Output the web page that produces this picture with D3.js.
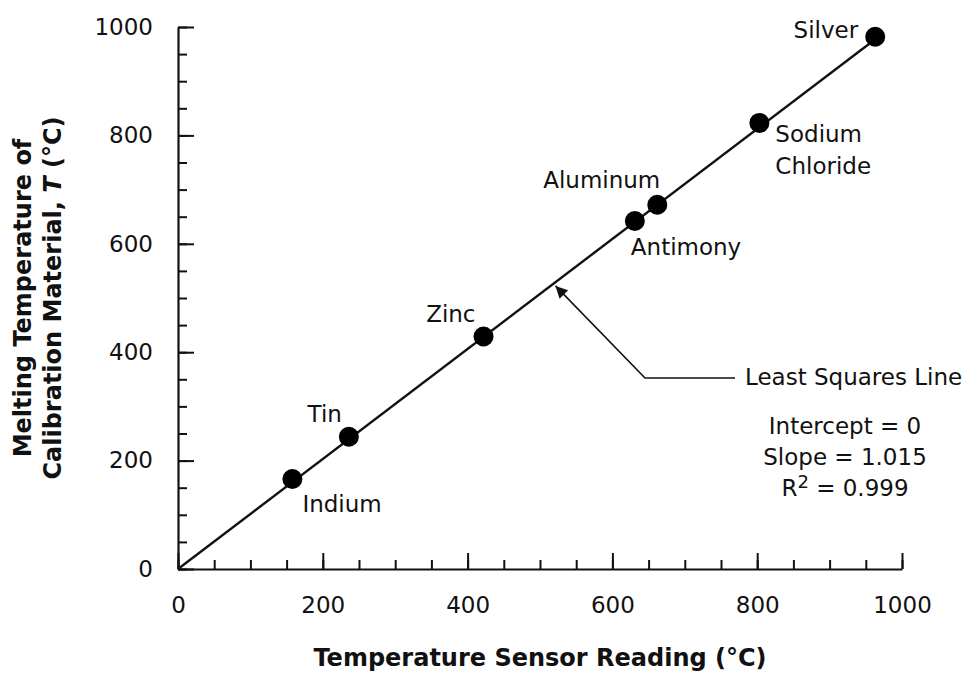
<!DOCTYPE html>
<html>
<head>
<meta charset="utf-8">
<script src="https://cdn.jsdelivr.net/npm/d3@7"></script>
<style>
  html, body { margin: 0; padding: 0; background: #fff; }
  #chart { width: 968px; height: 674px; }
  text { font-family: "DejaVu Sans", Verdana, sans-serif; fill: #111; }
</style>
</head>
<body>
<div id="chart"></div>
<script>
// calibration points
const materials     = ["Indium", "Tin", "Zinc", "Antimony", "Aluminum", "Sodium\nChloride", "Silver"];
const sensorReading = [158, 236, 422, 631, 662, 803, 963];
const meltingTemp   = [166, 244, 429, 642, 672, 823, 982];

const majorTicks = [0, 200, 400, 600, 800, 1000];
const minorTicks = d3.range(0, 1001, 50);

const fitSlope = 1.015;
const fitText  = ["Intercept = 0", "Slope = 1.015", "R2 = 0.999"];

/* label placement (px, relative to the dot) */
const labelPos = {
  "Indium":           { dx: 10,  dy: 33,  anchor: "start" },
  "Tin":              { dx: -7,  dy: -15, anchor: "end" },
  "Zinc":             { dx: -8,  dy: -14, anchor: "end" },
  "Antimony":         { dx: -4,  dy: 34,  anchor: "start" },
  "Aluminum":         { dx: 3,   dy: -17, anchor: "end" },
  "Sodium\nChloride": { dx: 16,  dy: 19,  anchor: "start" },
  "Silver":           { dx: -17, dy: 1,   anchor: "end" }
};

const W = 968, H = 674;
const svg = d3.select("#chart").append("svg").attr("width", W).attr("height", H);

const x = d3.scaleLinear().domain([0, 1000]).range([178, 902]);
const y = d3.scaleLinear().domain([0, 1000]).range([569, 27]);

const FS = 23;
const fmt = d3.format("d");

// minor ticks (inward)
svg.append("g")
  .attr("transform", `translate(0,${y(0)})`)
  .call(d3.axisBottom(x).tickValues(minorTicks).tickSizeInner(-9).tickSizeOuter(0).tickFormat(""))
  .call(g => g.select(".domain").remove())
  .call(g => g.selectAll(".tick line").attr("stroke", "#111").attr("stroke-width", 2));
svg.append("g")
  .attr("transform", `translate(${x(0)},0)`)
  .call(d3.axisLeft(y).tickValues(minorTicks).tickSizeInner(-9).tickSizeOuter(0).tickFormat(""))
  .call(g => g.select(".domain").remove())
  .call(g => g.selectAll(".tick line").attr("stroke", "#111").attr("stroke-width", 2));

// major ticks + labels
svg.append("g")
  .attr("transform", `translate(0,${y(0)})`)
  .call(d3.axisBottom(x).tickValues(majorTicks).tickFormat(fmt).tickSizeInner(-16).tickSizeOuter(0).tickPadding(28))
  .call(g => g.select(".domain").attr("stroke", "#111").attr("stroke-width", 2.2))
  .call(g => g.selectAll(".tick line").attr("stroke", "#111").attr("stroke-width", 2))
  .call(g => g.selectAll("text").attr("font-size", FS).attr("fill", "#111")
    .style("font-family", '"DejaVu Sans", Verdana, sans-serif'));
svg.append("g")
  .attr("transform", `translate(${x(0)},0)`)
  .call(d3.axisLeft(y).tickValues(majorTicks).tickFormat(fmt).tickSizeInner(-16).tickSizeOuter(0).tickPadding(25))
  .call(g => g.select(".domain").attr("stroke", "#111").attr("stroke-width", 2.2))
  .call(g => g.selectAll(".tick line").attr("stroke", "#111").attr("stroke-width", 2))
  .call(g => g.selectAll("text").attr("font-size", FS).attr("fill", "#111")
    .style("font-family", '"DejaVu Sans", Verdana, sans-serif'));

// least squares line
const xEnd = d3.max(sensorReading);
svg.append("line")
  .attr("x1", x(0)).attr("y1", y(0))
  .attr("x2", x(xEnd)).attr("y2", y(xEnd * fitSlope))
  .attr("stroke", "#111").attr("stroke-width", 2.4);

// points
const pts = materials.map((m, i) => ({ name: m, sx: sensorReading[i], t: meltingTemp[i] }));
svg.append("g").selectAll("circle")
  .data(pts).join("circle")
    .attr("cx", d => x(d.sx))
    .attr("cy", d => y(d.t))
    .attr("r", 10)
    .attr("fill", "#000");

// point labels
const lbl = svg.append("g").selectAll("text")
  .data(pts).join("text")
    .attr("x", d => x(d.sx) + labelPos[d.name].dx)
    .attr("y", d => y(d.t) + labelPos[d.name].dy)
    .attr("text-anchor", d => labelPos[d.name].anchor)
    .attr("font-size", FS);
lbl.each(function(d){
  const parts = d.name.split("\n");
  const t = d3.select(this);
  parts.forEach((p, k) => {
    t.append("tspan")
      .attr("x", x(d.sx) + labelPos[d.name].dx)
      .attr("dy", k === 0 ? 0 : 32)
      .text(p);
  });
});

// leader with arrow
svg.append("defs").append("marker")
  .attr("id", "arr").attr("viewBox", "0 0 10 10")
  .attr("refX", 10).attr("refY", 5)
  .attr("markerWidth", 16).attr("markerHeight", 12)
  .attr("markerUnits", "userSpaceOnUse")
  .attr("orient", "auto")
  .append("path").attr("d", "M0,0 L10,5 L0,10 Z").attr("fill", "#111");
const ax = x(520), ay = y(520 * fitSlope);
svg.append("path")
  .attr("d", `M735,378 L645,378 L${ax + 1},${ay + 3}`)
  .attr("fill", "none").attr("stroke", "#111").attr("stroke-width", 1.6)
  .attr("marker-end", "url(#arr)");
svg.append("text")
  .attr("x", 745).attr("y", 385)
  .attr("font-size", FS)
  .text("Least Squares Line");

// fit statistics
const stats = svg.append("g").attr("text-anchor", "middle").attr("font-size", FS);
fitText.forEach((s, i) => {
  const t = stats.append("text").attr("x", 845).attr("y", 434 + i * 31);
  if (s.startsWith("R2")) {
    t.append("tspan").text("R");
    t.append("tspan").attr("dy", -8).attr("font-size", 18).text("2");
    t.append("tspan").attr("dy", 8).text(s.slice(2));
  } else {
    t.text(s);
  }
});

// axis titles
svg.append("text")
  .attr("x", (x(0) + x(1000)) / 2).attr("y", 666)
  .attr("text-anchor", "middle")
  .attr("font-size", 24).attr("font-weight", "bold")
  .text("Temperature Sensor Reading (°C)");

const yt = svg.append("text")
  .attr("transform", `translate(0,${(y(0) + y(1000)) / 2}) rotate(-90)`)
  .attr("text-anchor", "middle")
  .attr("font-size", 24).attr("font-weight", "bold");
yt.append("tspan").attr("x", 0).attr("y", 31).text("Melting Temperature of");
const l2 = yt.append("tspan").attr("x", 0).attr("y", 61);
l2.append("tspan").text("Calibration Material, ");
l2.append("tspan").attr("font-style", "italic").text("T");
l2.append("tspan").text(" (°C)");
</script>
</body>
</html>
